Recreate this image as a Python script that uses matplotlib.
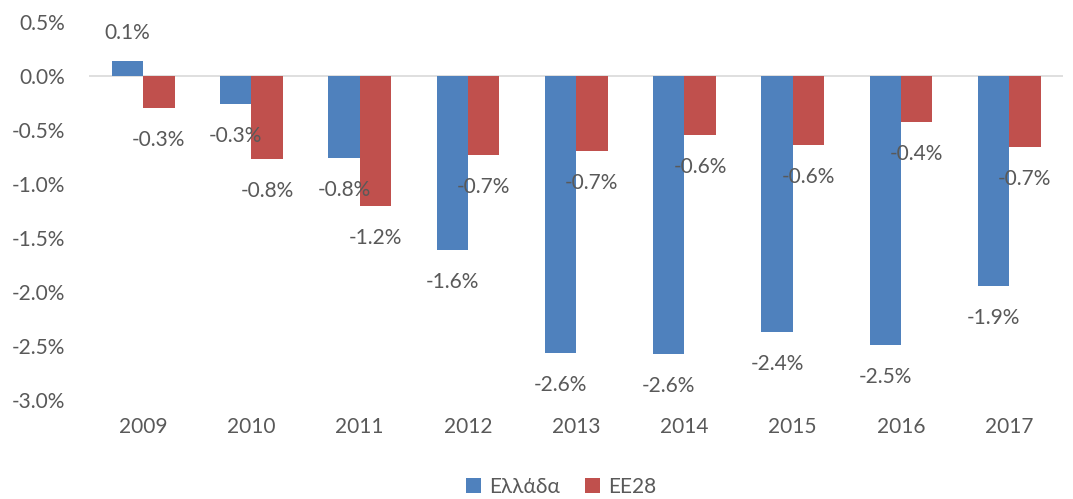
import numpy as np
import matplotlib.pyplot as plt
from matplotlib.ticker import FuncFormatter

years = ['2009', '2010', '2011', '2012', '2013', '2014', '2015', '2016', '2017']
greece = [0.14, -0.26, -0.76, -1.61, -2.56, -2.57, -2.37, -2.49, -1.94]
eu28 = [-0.30, -0.77, -1.20, -0.73, -0.69, -0.55, -0.64, -0.43, -0.66]
series_names = ['Ελλάδα', 'ΕΕ28']

blue = '#4F81BD'
red = '#C0504D'
txt = '#595959'

plt.rcParams['font.family'] = ['Lato', 'DejaVu Sans']

fig = plt.figure(figsize=(10.73, 4.99), dpi=100)
ax = fig.add_axes([0.083, 0.198, 0.908, 0.758])

x = np.arange(len(years))
w = 0.29
b1 = ax.bar(x - w / 2, greece, w, color=blue, label=series_names[0])
b2 = ax.bar(x + w / 2, eu28, w, color=red, label=series_names[1])

# value labels sit just beyond the bar ends
for bars, vals in [(b1, greece), (b2, eu28)]:
    for rect, v in zip(bars, vals):
        cx = rect.get_x() + rect.get_width() / 2
        off = 28 if v >= 0 else -32
        ax.annotate(f'{v:.1f}%', (cx, v), xytext=(0, off), textcoords='offset pixels',
                    ha='center', va='center', fontsize=15, color=txt)

ax.set_ylim(-3.0, 0.5)
ax.set_xlim(-0.5, len(years) - 0.5)
ax.set_yticks(np.arange(-3.0, 0.51, 0.5))
ax.yaxis.set_major_formatter(FuncFormatter(lambda v, p: f'{v:.1f}%'))
ax.set_xticks(x)
ax.set_xticklabels(years)
ax.tick_params(length=0, labelsize=15, colors=txt)
ax.tick_params(axis='y', pad=17)
ax.tick_params(axis='x', pad=12)
for s in ax.spines.values():
    s.set_visible(False)
ax.axhline(0, color='#D9D9D9', lw=1.2, zorder=0)

fig.legend(handles=[b1, b2], loc='center', bbox_to_anchor=(0.523, 0.025), ncol=2,
           frameon=False, fontsize=15, handlelength=0.7, handleheight=0.7,
           handletextpad=0.4, columnspacing=1.2, labelcolor=txt)

fig.savefig('out.png', dpi=100)
